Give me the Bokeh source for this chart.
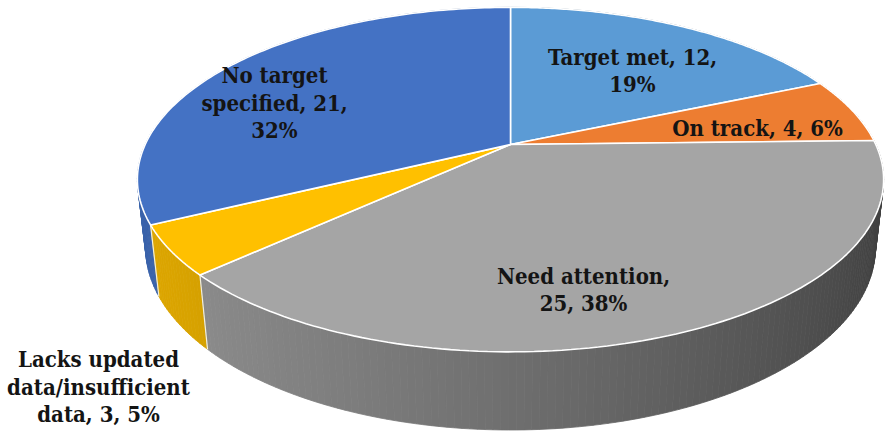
import numpy as np
from bokeh.plotting import figure
from bokeh.models import Range1d
from bokeh.embed import file_html
from bokeh.resources import INLINE
from bokeh.core.properties import value

# ---------------- data ----------------
categories = ["Target met", "On track", "Need attention",
              "Lacks updated data/insufficient data", "No target specified"]
counts = [12, 4, 25, 3, 21]
percents = ["19%", "6%", "38%", "5%", "32%"]
label_lines = [
    ["Target met, 12,", "19%"],
    ["On track, 4, 6%"],
    ["Need attention,", "25, 38%"],
    ["Lacks updated", "data/insufficient", "data, 3, 5%"],
    ["No target", "specified, 21,", "32%"],
]
colors = ["#5B9BD5", "#ED7D31", "#A5A5A5", "#FFC000", "#4472C4"]

# ---------------- layout ----------------
W, HGT = 887, 439
CX, CY = 510, 144          # screen position of pie centre
S = 0.452                  # sin(elevation)
C = np.sqrt(1 - S * S)
D = 4.38                   # camera distance (in radii)
F = 1600                   # focal length (px)
H = 0.21                   # thickness (in radii)
label_pos = [(632, 70), (757, 127), (583, 289), (98, 386), (274, 102)]
FONT_PX = 22


def proj(theta_deg, r=1.0, y=0.0):
    t = np.radians(theta_deg)
    x = r * np.sin(t)
    z = -r * np.cos(t)
    depth = D - y * S - z * C
    sx = x * F / depth
    sy = (-y * C + z * S) * F / depth
    return CX + sx, CY + sy, depth


def shade(hexcol, f):
    h = hexcol.lstrip("#")
    r, g, b = (int(h[i:i + 2], 16) for i in (0, 2, 4))
    return "#%02x%02x%02x" % tuple(int(max(0, min(255, round(v * f)))) for v in (r, g, b))


def side_factor(theta_deg):
    t = np.radians(theta_deg)
    return 0.62 - 0.25 * np.sin(t) - 0.05 * np.cos(t)


total = float(sum(counts))
bounds = np.concatenate([[0.0], np.cumsum(counts) / total * 360.0])

p = figure(width=W, height=HGT, x_range=Range1d(0, W), y_range=Range1d(HGT, 0),
           x_axis_type=None, y_axis_type=None, toolbar_location=None,
           output_backend="svg", min_border=0)
p.grid.visible = False
p.outline_line_color = None
p.background_fill_color = "white"
p.border_fill_color = "white"

# ---------- side wall (small quads, far to near) ----------
quads = []
for i in range(len(counts)):
    a0, a1 = bounds[i], bounds[i + 1]
    n = max(2, int(np.ceil((a1 - a0) / 1.0)))
    th = np.linspace(a0, a1, n + 1)
    for ta, tb in zip(th[:-1], th[1:]):
        xa, ya, _ = proj(ta)
        xb, yb, _ = proj(tb)
        xc, yc, _ = proj(tb, y=-H)
        xd, yd, _ = proj(ta, y=-H)
        _, _, dm = proj(0.5 * (ta + tb))
        col = shade(colors[i], side_factor(0.5 * (ta + tb)))
        quads.append((dm, [xa, xb, xc, xd], [ya, yb, yc, yd], col))
quads.sort(key=lambda q: -q[0])
p.patches([q[1] for q in quads], [q[2] for q in quads],
          fill_color=[q[3] for q in quads], line_color=[q[3] for q in quads],
          line_width=0.8)

# boundary lines on the visible side wall
for b in bounds[1:-1]:
    if 90 < b < 270:
        x0, y0, _ = proj(b)
        x1, y1, _ = proj(b, y=-H)
        p.line([x0, x1], [y0, y1], line_color="#f4f0d8", line_width=1.2)

# ---------- top faces ----------
txs, tys = [], []
for i in range(len(counts)):
    th = np.linspace(bounds[i], bounds[i + 1], 120)
    pts = [proj(t) for t in th]
    txs.append([CX] + [q[0] for q in pts])
    tys.append([CY] + [q[1] for q in pts])
p.patches(txs, tys, fill_color=colors, line_color="white", line_width=1.6)

# ---------- labels ----------
lh = 27.5
for lines, (lx, ly) in zip(label_lines, label_pos):
    n = len(lines)
    ys = [ly + (k - (n - 1) / 2) * lh for k in range(n)]
    p.text(x=[lx] * n, y=ys, text=lines, text_font=value("DejaVu Serif Condensed"),
           text_font_style="bold", text_font_size="%dpx" % FONT_PX,
           text_align="center", text_baseline="middle", text_color="#141414")

open("out.html", "w").write(file_html(p, INLINE))
